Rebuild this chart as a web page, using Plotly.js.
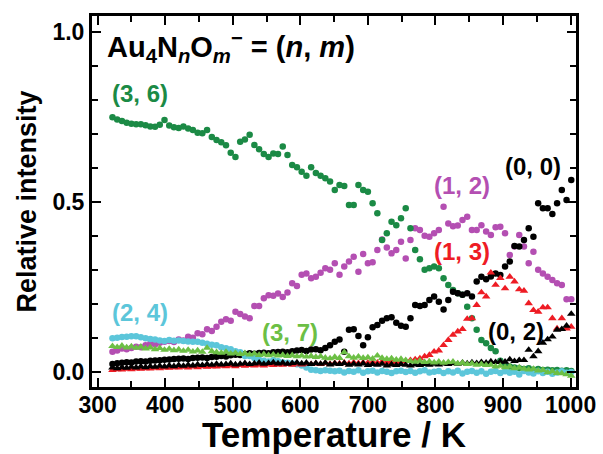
<!DOCTYPE html>
<html>
<head>
<meta charset="utf-8">
<script src="https://cdn.plot.ly/plotly-3.0.1.min.js"></script>
<style>
  html, body { margin: 0; padding: 0; background: #fff; }
  #chart { width: 603px; height: 454px; }
</style>
</head>
<body>
<div id="chart"></div>
<script>
// Temperature grid (K)
const temperature = [
  322, 329, 336, 343, 350, 357, 364, 371, 378, 385,
  392, 399, 406, 413, 420, 427, 434, 441, 448, 455,
  462, 469, 476, 483, 490, 497, 504, 511, 518, 525,
  532, 539, 546, 553, 560, 567, 574, 581, 588, 595,
  602, 609, 616, 623, 630, 637, 644, 651, 658, 665,
  672, 679, 686, 693, 700, 707, 714, 721, 728, 735,
  742, 749, 756, 763, 770, 777, 784, 791, 798, 805,
  812, 819, 826, 833, 840, 847, 854, 861, 868, 875,
  882, 889, 896, 903, 910, 917, 924, 931, 938, 945,
  952, 959, 966, 973, 980, 987, 994, 1001
];

// Relative intensities of Au4NnOm- for each (n, m)
const i36 = [
  .748, .742, .737, .732, .729, .728, .728, .725, .721, .720,
  .726, .740, .724, .719, .717, .721, .715, .711, .703, .701,
  .711, .690, .681, .675, .666, .644, .631, .676, .683, .697,
  .667, .654, .640, .631, .642, .640, .662, .637, .608, .601,
  .588, .576, .601, .584, .576, .569, .559, .534, .549, .546,
  .490, .490, .549, .534, .529, .495, .466, .387, .407, .441,
  .431, .451, .481, .422, .358, .331, .300, .304, .309, .304,
  .275, .255, .240, .231, .226, .191, .157, .123, .093, .084,
  .070, .060, .032, .020, .015, .012, .010, .008, .010, .006,
  .008, .005, .006, .004, .005, .003, .004, .002
];
const i12 = [
  .059, .062, .068, .066, .070, .073, .072, .078, .083, .080,
  .085, .088, .090, .087, .095, .092, .103, .100, .113, .110,
  .125, .120, .132, .147, .154, .150, .176, .170, .162, .157,
  .193, .193, .216, .225, .223, .230, .220, .233, .260, .252,
  .285, .289, .275, .279, .291, .304, .300, .319, .285, .309,
  .324, .338, .294, .346, .319, .322, .358, .389, .365, .348,
  .358, .382, .333, .387, .422, .417, .400, .397, .407, .417,
  .485, .436, .428, .430, .446, .456, .417, .417, .431, .412,
  .402, .425, .426, .407, .343, .368, .402, .368, .319, .353,
  .300, .289, .279, .270, .260, .255, .213, .213
];
const i00 = [
  .023, .025, .026, .028, .027, .030, .031, .030, .032, .033,
  .034, .035, .036, .037, .038, .039, .037, .040, .041, .042,
  .040, .043, .044, .046, .045, .048, .050, .049, .052, .054,
  .053, .055, .056, .054, .057, .058, .059, .057, .060, .062,
  .064, .061, .065, .066, .063, .070, .078, .088, .095, .059,
  .123, .125, .105, .078, .101, .131, .137, .150, .157, .160,
  .144, .135, .132, .157, .196, .193, .196, .211, .221, .206,
  .183, .211, .235, .231, .226, .231, .221, .265, .279, .272,
  .280, .289, .284, .309, .324, .370, .368, .387, .422, .397,
  .495, .481, .481, .464, .495, .534, .505, .564
];
const i24 = [
  .098, .100, .102, .103, .104, .104, .101, .098, .096, .095,
  .092, .090, .093, .091, .092, .090, .089, .088, .088, .085,
  .082, .079, .078, .072, .069, .066, .060, .057, .046, .046,
  .040, .035, .032, .030, .034, .031, .027, .026, .024, .022,
  .018, .012, .006, .004, .002, .004, .003, .001, .003, -.002,
  .002, .000, .004, -.003, .001, .003, -.002, .002, .000, -.004,
  .001, .003, -.001, .002, -.003, .001, .004, -.002, .000, .002,
  -.004, .001, -.002, .003, -.005, .000, .002, -.003, .001, -.006,
  .000, .002, -.004, .001, -.003, .000, -.008, .002, -.002, -.005,
  .001, -.004, .000, -.006, -.002, .001, -.003, -.001
];
const i13 = [
  .005, .007, .006, .008, .007, .009, .008, .010, .009, .011,
  .010, .012, .011, .013, .012, .014, .012, .015, .013, .016,
  .014, .016, .015, .017, .016, .018, .016, .019, .017, .019,
  .018, .020, .018, .021, .019, .021, .020, .022, .020, .023,
  .021, .023, .022, .024, .022, .025, .023, .025, .024, .026,
  .024, .027, .025, .027, .026, .028, .026, .029, .027, .030,
  .028, .030, .031, .034, .036, .039, .045, .049, .059, .062,
  .078, .093, .108, .118, .125, .155, .157, .196, .233, .221,
  .291, .255, .275, .245, .279, .265, .242, .238, .201, .181,
  .176, .189, .189, .157, .127, .157, .127, .132
];
const i02 = [
  .012, .010, .013, .011, .014, .012, .015, .013, .016, .014,
  .017, .015, .018, .016, .019, .017, .020, .018, .021, .019,
  .022, .020, .023, .021, .022, .024, .021, .023, .025, .022,
  .024, .026, .023, .025, .027, .024, .026, .023, .025, .027,
  .024, .026, .022, .025, .023, .026, .021, .024, .022, .025,
  .020, .023, .021, .024, .019, .022, .020, .023, .018, .021,
  .019, .022, .020, .018, .021, .019, .022, .020, .023, .021,
  .024, .022, .025, .023, .026, .024, .027, .025, .028, .026,
  .030, .028, .030, .029, .036, .031, .034, .034, .064, .045,
  .060, .085, .095, .103, .123, .125, .135, .170
];
const i37 = [
  .075, .072, .076, .071, .074, .070, .073, .068, .071, .066,
  .069, .064, .067, .063, .065, .061, .064, .059, .062, .058,
  .070, .060, .057, .055, .058, .053, .055, .052, .054, .050,
  .053, .049, .051, .048, .050, .047, .049, .046, .048, .045,
  .047, .044, .046, .043, .045, .041, .039, .043, .040, .057,
  .045, .041, .044, .040, .042, .038, .047, .040, .037, .039,
  .035, .037, .034, .031, .029, .032, .028, .030, .027, .029,
  .026, .028, .029, .024, .026, .022, .024, .020, .022, .019,
  .020, .015, .017, .013, .015, .010, .012, .008, .006, .008,
  .003, .005, -.002, .001, -.004, -.005, -.008, -.012
];

// Series labels and where they sit (data coordinates)
const labelText = ['(3, 6)', '(2, 4)', '(3, 7)', '(1, 2)', '(1, 3)', '(0, 0)', '(0, 2)'];
const labelT    = [363, 363, 584, 839, 839, 945, 919];
const labelI    = [0.817, 0.174, 0.115, 0.549, 0.353, 0.603, 0.118];

const C_36 = '#1b8a45', C_12 = '#b44fb2', C_00 = '#000000', C_24 = '#5cc6da',
      C_13 = '#ee1c24', C_02 = '#000000', C_37 = '#6cbf45';
const labelColor = [C_36, C_24, C_37, C_12, C_13, C_00, C_02];

const FONT = 'Liberation Sans, Arial, Helvetica, sans-serif';

function series(y, color, symbol, size) {
  return {
    x: temperature, y: y, type: 'scatter', mode: 'markers',
    marker: { color: color, symbol: symbol, size: size, line: { width: 0 } },
    hoverinfo: 'skip', showlegend: false, cliponaxis: true
  };
}

const data = [
  series(i12, C_12, 'circle', 6.5),
  series(i36, C_36, 'circle', 6.5),
  series(i00, C_00, 'circle', 6.5),
  series(i24, C_24, 'circle', 6.5),
  series(i13, C_13, 'triangle-up', 7.5),
  series(i02, C_02, 'triangle-up', 7.5),
  series(i37, C_37, 'triangle-up', 7.5)
];

const annotations = labelText.map((t, k) => ({
  x: labelT[k], y: labelI[k], xref: 'x', yref: 'y', text: t, showarrow: false,
  xanchor: 'center', yanchor: 'middle',
  font: { family: FONT, size: 24, weight: 'bold', color: labelColor[k] }
}));
annotations.push({
  x: 311.5, y: 0.955, xref: 'x', yref: 'y', xanchor: 'left', yanchor: 'middle', showarrow: false,
  text: 'Au<sub>4</sub>N<sub><i>n</i></sub>O<sub><i>m</i></sub><sup>\u2212</sup> = (<i>n</i>, <i>m</i>)',
  font: { family: FONT, size: 29, weight: 'bold', color: '#000' }
});

const axisCommon = {
  showgrid: false, zeroline: false, showline: true, linecolor: '#000', linewidth: 3,
  mirror: 'ticks', ticks: 'inside', ticklen: 9, tickwidth: 2, tickcolor: '#000',
  tickfont: { family: FONT, size: 23, weight: 'bold', color: '#000' }
};

const layout = {
  width: 603, height: 454,
  margin: { l: 92, r: 27, t: 16, b: 67 },
  paper_bgcolor: '#fff', plot_bgcolor: '#fff',
  font: { family: FONT, color: '#000' },
  xaxis: Object.assign({}, axisCommon, {
    range: [291.7, 1008], tick0: 300, dtick: 100, ticklabelstandoff: -5,
    minor: { ticks: 'inside', dtick: 50, ticklen: 6, tickwidth: 2, tickcolor: '#000' },
    title: { text: 'Temperature / K', standoff: 2,
             font: { family: FONT, size: 35, weight: 'bold', color: '#000' } }
  }),
  yaxis: Object.assign({}, axisCommon, {
    range: [-0.045, 1.046], tick0: 0, dtick: 0.5, tickformat: '.1f',
    minor: { ticks: 'inside', dtick: 0.1, ticklen: 6, tickwidth: 2, tickcolor: '#000' },
    title: { text: 'Relative intensity', standoff: 8,
             font: { family: FONT, size: 27, weight: 'bold', color: '#000' } }
  }),
  annotations: annotations
};

Plotly.newPlot('chart', data, layout, { staticPlot: true, displayModeBar: false });
</script>
</body>
</html>
